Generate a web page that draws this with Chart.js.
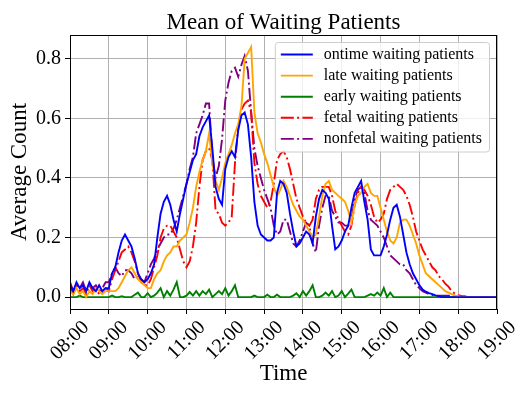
<!DOCTYPE html>
<html>
<head>
<meta charset="utf-8">
<script src="https://cdn.jsdelivr.net/npm/chart.js@4/dist/chart.umd.min.js"></script>
<style>
  html, body { margin: 0; padding: 0; background: #ffffff; }
  #wrap { width: 531px; height: 399px; }
</style>
</head>
<body>
<div id="wrap"><canvas id="c" width="531" height="399"></canvas></div>
<script>
// ---- data (5-minute samples from 08:00 to 19:00) ----
const START_MIN = 480;   // 08:00
const STEP_MIN = 5;
const hourTickLabels = ['08:00','09:00','10:00','11:00','12:00','13:00','14:00','15:00','16:00','17:00','18:00','19:00'];
const yTickValues = [0.0, 0.2, 0.4, 0.6, 0.8];

const ontime = [
  0.04,0.02,0.05,0.03,0.04,0.02,0.05,0.03,0.02,0.04,0.02,0.03,
  0.03,0.08,0.10,0.15,0.19,0.21,0.19,0.17,0.13,0.08,0.06,0.05,
  0.06,0.08,0.11,0.20,0.28,0.32,0.34,0.31,0.26,0.22,0.28,0.33,
  0.38,0.42,0.46,0.48,0.54,0.57,0.59,0.61,0.50,0.37,0.33,0.31,
  0.43,0.47,0.49,0.47,0.56,0.61,0.62,0.58,0.47,0.32,0.24,0.21,
  0.20,0.19,0.19,0.20,0.35,0.39,0.38,0.35,0.28,0.22,0.17,0.18,
  0.20,0.22,0.21,0.18,0.27,0.33,0.36,0.35,0.33,0.24,0.16,0.17,
  0.19,0.22,0.24,0.30,0.35,0.37,0.39,0.32,0.26,0.16,0.14,0.14,
  0.14,0.17,0.21,0.26,0.30,0.31,0.27,0.21,0.15,0.11,0.08,0.06,
  0.04,0.025,0.018,0.013,0.01,0.006,0.003,0,0,0,0,0,
  0,0,0,0,0,0,0,0,0,0,0,0,0
];
const late = [
  0.02,0.01,0.03,0.01,0.02,0.00,0.02,0.01,0.03,0.02,0.01,0.02,
  0.02,0.02,0.02,0.03,0.05,0.07,0.09,0.10,0.08,0.06,0.05,0.04,
  0.03,0.03,0.06,0.08,0.09,0.12,0.14,0.15,0.17,0.17,0.19,0.20,
  0.21,0.25,0.30,0.37,0.42,0.46,0.49,0.55,0.45,0.39,0.36,0.40,
  0.45,0.48,0.51,0.55,0.58,0.64,0.80,0.82,0.84,0.62,0.55,0.52,
  0.48,0.45,0.41,0.37,0.34,0.36,0.39,0.37,0.34,0.31,0.29,0.27,
  0.26,0.24,0.22,0.20,0.21,0.27,0.34,0.38,0.39,0.36,0.35,0.34,
  0.33,0.32,0.29,0.25,0.31,0.34,0.35,0.37,0.38,0.35,0.34,0.34,
  0.30,0.26,0.22,0.19,0.18,0.20,0.25,0.26,0.26,0.24,0.21,0.18,
  0.14,0.11,0.08,0.07,0.06,0.05,0.04,0.03,0.02,0.015,0.01,0.005,
  0.003,0,0,0,0,0,0,0,0,0,0,0,0
];
const early = [
  0,0,0,0.005,0,0,0,0,0,0,0,0,
  0,0.005,0,0,0.003,0,0,0,0.008,0.015,0,0,
  0.013,0,0.005,0.015,0.03,0,0.02,0.005,0.025,0.05,0,0,
  0.005,0.017,0.005,0.02,0.005,0.02,0.01,0.025,0,0.01,0.02,0.01,
  0.03,0.005,0.02,0.04,0,0,0,0,0,0.005,0,0,
  0,0.008,0,0,0.008,0,0,0,0,0.005,0.013,0,
  0.02,0.005,0.02,0.04,0,0,0.005,0.015,0.005,0.02,0,0.005,
  0.02,0,0.012,0.025,0,0,0,0,0.005,0.01,0.005,0.015,
  0.005,0.03,0,0.015,0,0,0,0,0,0,0,0,
  0,0,0,0,0,0,0,0,0,0,0,0,
  0,0,0,0,0,0,0,0,0,0,0,0,0
];
const fetal = [
  0.03,0.01,0.04,0.02,0.03,0.01,0.04,0.02,0.03,0.01,0.02,0.03,
  0.02,0.06,0.09,0.12,0.15,0.16,0.17,0.15,0.12,0.08,0.05,0.04,
  0.04,0.06,0.10,0.14,0.20,0.23,0.24,0.24,0.22,0.20,0.16,0.12,
  0.10,0.12,0.17,0.25,0.37,0.46,0.49,0.50,0.46,0.29,0.28,0.25,
  0.24,0.25,0.27,0.45,0.57,0.63,0.65,0.66,0.62,0.45,0.38,0.34,
  0.32,0.30,0.32,0.38,0.46,0.48,0.49,0.47,0.43,0.38,0.33,0.30,
  0.27,0.25,0.24,0.26,0.33,0.36,0.37,0.37,0.37,0.34,0.29,0.26,
  0.24,0.22,0.21,0.24,0.31,0.35,0.37,0.36,0.34,0.31,0.27,0.25,
  0.26,0.28,0.33,0.36,0.37,0.38,0.37,0.36,0.34,0.31,0.27,0.22,
  0.19,0.16,0.14,0.12,0.10,0.09,0.07,0.06,0.045,0.035,0.02,0.012,
  0.006,0.004,0.003,0,0,0,0,0,0,0,0,0,0
];
const nonfetal = [
  0.05,0.02,0.04,0.03,0.05,0.02,0.04,0.03,0.04,0.02,0.03,0.05,
  0.05,0.08,0.10,0.08,0.07,0.09,0.09,0.08,0.06,0.07,0.06,0.05,
  0.08,0.11,0.13,0.16,0.18,0.20,0.21,0.21,0.23,0.26,0.30,0.34,
  0.38,0.43,0.47,0.55,0.58,0.61,0.65,0.65,0.47,0.40,0.44,0.53,
  0.66,0.72,0.76,0.77,0.74,0.78,0.81,0.76,0.62,0.50,0.44,0.40,
  0.36,0.33,0.30,0.24,0.21,0.22,0.26,0.26,0.22,0.18,0.17,0.19,
  0.22,0.25,0.24,0.18,0.15,0.24,0.30,0.34,0.34,0.29,0.27,0.25,
  0.25,0.24,0.24,0.26,0.33,0.36,0.37,0.35,0.29,0.26,0.25,0.24,
  0.22,0.20,0.17,0.14,0.13,0.12,0.11,0.11,0.09,0.08,0.06,0.04,
  0.03,0.02,0.015,0.01,0.007,0.005,0.005,0.005,0.005,0.005,0.005,0.005,
  0,0,0,0,0,0,0,0,0,0,0,0,0
];

const seriesNames = ['ontime waiting patients','late waiting patients','early waiting patients','fetal waiting patients','nonfetal waiting patients'];
const seriesValues = [ontime, late, early, fetal, nonfetal];
const seriesColors = ['#0000ff','#ffa500','#008000','#ff0000','#800080'];
const seriesDashed = [false, false, false, true, true];

// ---- chart ----
const SERIF = "'Liberation Serif', 'Times New Roman', serif";
const DASHDOT = [13, 3.3, 2, 3.3];

const toPoints = vals => vals.map((v, i) => ({ x: START_MIN + i * STEP_MIN, y: v }));

const datasets = seriesNames.map((name, k) => ({
  label: name,
  data: toPoints(seriesValues[k]),
  borderColor: seriesColors[k],
  backgroundColor: seriesColors[k],
  borderWidth: 1.9,
  borderDash: seriesDashed[k] ? DASHDOT : [],
  pointRadius: 0,
  tension: 0,
  fill: false
}));

const framePlugin = {
  id: 'frameTitleLegend',
  afterDatasetsDraw(chart) {
    const ctx = chart.ctx;
    const a = chart.chartArea;
    ctx.save();
    // spines
    ctx.strokeStyle = '#000000';
    ctx.lineWidth = 1;
    ctx.setLineDash([]);
    ctx.strokeRect(Math.round(a.left) + 0.5, Math.round(a.top) + 0.5, Math.round(a.right - a.left) - 1, Math.round(a.bottom - a.top));
    // title
    ctx.fillStyle = '#000000';
    ctx.font = "23px " + SERIF;
    ctx.textAlign = 'center';
    ctx.textBaseline = 'alphabetic';
    ctx.fillText('Mean of Waiting Patients', (a.left + a.right) / 2, 29);
    // legend
    ctx.font = "16px " + SERIF;
    let maxW = 0;
    chart.data.datasets.forEach(ds => { maxW = Math.max(maxW, ctx.measureText(ds.label).width); });
    const rowH = 21.1;
    const boxRight = a.right - 8;
    const boxTop = a.top + 7;
    const boxW = 49 + maxW + 7;
    const boxH = rowH * chart.data.datasets.length + 4;
    const boxLeft = boxRight - boxW;
    ctx.beginPath();
    if (ctx.roundRect) ctx.roundRect(boxLeft + 0.5, boxTop + 0.5, boxW, boxH, 3);
    else ctx.rect(boxLeft + 0.5, boxTop + 0.5, boxW, boxH);
    ctx.fillStyle = 'rgba(255,255,255,0.8)';
    ctx.fill();
    ctx.strokeStyle = '#cccccc';
    ctx.lineWidth = 1;
    ctx.stroke();
    chart.data.datasets.forEach((ds, i) => {
      const cy = boxTop + 12.5 + i * rowH;
      ctx.beginPath();
      ctx.strokeStyle = ds.borderColor;
      ctx.lineWidth = ds.borderWidth;
      ctx.setLineDash(ds.borderDash || []);
      ctx.moveTo(boxLeft + 6, cy);
      ctx.lineTo(boxLeft + 38, cy);
      ctx.stroke();
      ctx.setLineDash([]);
      ctx.fillStyle = '#000000';
      ctx.textAlign = 'left';
      ctx.textBaseline = 'middle';
      ctx.fillText(ds.label, boxLeft + 49, cy);
    });
    ctx.restore();
  }
};

new Chart(document.getElementById('c'), {
  type: 'line',
  data: { datasets },
  options: {
    responsive: false,
    devicePixelRatio: 1,
    animation: false,
    layout: { padding: { top: 35, right: 34, left: 0, bottom: 0 } },
    plugins: { legend: { display: false }, title: { display: false }, tooltip: { enabled: false } },
    scales: {
      x: {
        type: 'linear',
        min: 480,
        max: 1140,
        afterFit(scale) { scale.height = 90; },
        afterBuildTicks(scale) {
          scale.ticks = hourTickLabels.map((_, i) => ({ value: START_MIN + 60 * i }));
        },
        ticks: {
          autoSkip: false,
          minRotation: 45,
          maxRotation: 45,
          labelOffset: 16,
          padding: 2,
          color: '#000000',
          font: { family: SERIF, size: 20 },
          callback: (v) => hourTickLabels[Math.round((v - START_MIN) / 60)]
        },
        grid: { color: '#b0b0b0', lineWidth: 1, tickColor: '#000000', tickLength: 5, drawTicks: true },
        border: { display: true, color: '#000000', width: 1 },
        title: { display: true, text: 'Time', color: '#000000', font: { family: SERIF, size: 23 }, padding: { top: 0, bottom: 11 } }
      },
      y: {
        type: 'linear',
        min: -0.04,
        max: 0.88,
        afterFit(scale) { scale.width = 70; },
        afterBuildTicks(scale) { scale.ticks = yTickValues.map(v => ({ value: v })); },
        ticks: {
          padding: 4,
          color: '#000000',
          font: { family: SERIF, size: 20 },
          callback: (v) => Number(v).toFixed(1)
        },
        grid: { color: '#b0b0b0', lineWidth: 1, tickColor: '#000000', tickLength: 5, drawTicks: true },
        border: { display: true, color: '#000000', width: 1 },
        title: { display: true, text: 'Average Count', color: '#000000', font: { family: SERIF, size: 23 }, padding: { top: 6, bottom: 0 } }
      }
    }
  },
  plugins: [framePlugin]
});
</script>
</body>
</html>
